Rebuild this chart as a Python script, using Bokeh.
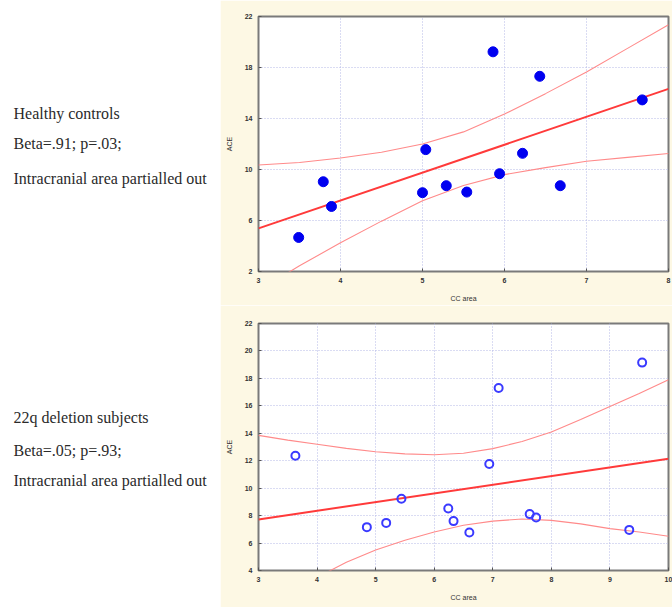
from bokeh.plotting import figure
from bokeh.layouts import column, row
from bokeh.models import FixedTicker, Range1d
from bokeh.core.properties import value
from bokeh.embed import file_html
from bokeh.resources import INLINE

# ---------------- data ----------------
# Healthy controls
hc_cc = [3.49, 3.79, 3.89, 5.00, 5.04, 5.29, 5.54, 5.86, 5.94, 6.22, 6.43, 6.68, 7.68]
hc_ace = [4.67, 9.04, 7.10, 8.18, 11.56, 8.73, 8.23, 19.23, 9.67, 11.27, 17.31, 8.73, 15.46]
hc_fit_x = [3, 8]
hc_fit_y = [5.38, 16.32]
hc_band_x = [3, 3.5, 4, 4.5, 5, 5.5, 6, 6.5, 7, 7.5, 8]
hc_upper = [10.35, 10.55, 10.9, 11.35, 12.0, 12.95, 14.35, 15.95, 17.65, 19.5, 21.35]
hc_lower = [0.5, 2.45, 4.25, 5.95, 7.55, 8.75, 9.6, 10.15, 10.65, 10.95, 11.25]
hc_xticks = [3, 4, 5, 6, 7, 8]
hc_yticks = [2, 6, 10, 14, 18, 22]
hc_text = ["Healthy controls", "Beta=.91; p=.03;", "Intracranial area partialled out"]

# 22q deletion subjects
dq_cc = [3.63, 4.85, 5.18, 5.44, 6.24, 6.33, 6.60, 6.94, 7.10, 7.63, 7.74, 9.33, 9.55]
dq_ace = [12.36, 7.16, 7.47, 9.23, 8.52, 7.60, 6.77, 11.76, 17.30, 8.11, 7.86, 6.96, 19.15]
dq_fit_x = [3, 10]
dq_fit_y = [7.72, 12.15]
dq_band_x = [3, 3.5, 4, 4.5, 5, 5.5, 6, 6.5, 7, 7.5, 8, 8.5, 9, 9.5, 10]
dq_upper = [13.85, 13.5, 13.2, 12.9, 12.65, 12.5, 12.44, 12.55, 12.88, 13.4, 14.1, 15.0, 15.95, 16.9, 17.9]
dq_lower = [1.6, 2.6, 3.5, 4.6, 5.5, 6.2, 6.8, 7.3, 7.6, 7.75, 7.65, 7.4, 7.05, 6.8, 6.5]
dq_xticks = [3, 4, 5, 6, 7, 8, 9, 10]
dq_yticks = [4, 6, 8, 10, 12, 14, 16, 18, 20, 22]
dq_text = ["22q deletion subjects", "Beta=.05; p=.93;", "Intracranial area partialled out"]

x_label = "CC area"
y_label = "ACE"

CREAM = "#fdf8e4"
TEXT_W = 220
PLOT_W = 452


def text_panel(lines, ys, height, frame_top, frame_bottom):
    # the row aligns this figure's frame with the plot frame beside it,
    # so its y range spans that same band, in row pixels
    t = figure(width=TEXT_W, height=height, x_range=Range1d(0, TEXT_W),
               y_range=Range1d(frame_bottom, frame_top), output_backend="svg",
               toolbar_location=None, min_border=0)
    t.axis.visible = False
    t.grid.visible = False
    t.outline_line_color = None
    t.background_fill_color = "white"
    t.border_fill_color = "white"
    t.text(x=[13] * len(lines), y=ys, text=lines,
           text_font=value("Liberation Serif"), text_font_size="16px",
           text_color="#2a2a2a", text_baseline="middle", text_align="left")
    return t


def scatter_panel(xs, ys, fx, fy, bx, bu, bl, xr, yr, xt, yt, height,
                  top, bottom, filled):
    p = figure(width=PLOT_W, height=height, x_range=Range1d(*xr),
               y_range=Range1d(*yr), output_backend="svg",
               toolbar_location=None, min_border_left=38, min_border_right=4,
               min_border_top=top, min_border_bottom=bottom)
    p.background_fill_color = "white"
    p.border_fill_color = CREAM
    p.outline_line_color = "#7a7a7a"
    p.outline_line_width = 2
    p.xaxis.ticker = FixedTicker(ticks=xt)
    p.yaxis.ticker = FixedTicker(ticks=yt)
    for ax in (p.xaxis, p.yaxis):
        ax.axis_line_color = None
        ax.major_tick_in = 3
        ax.major_tick_out = 0
        ax.major_tick_line_color = "#555555"
        ax.minor_tick_line_color = None
        ax.major_label_text_font = "Liberation Sans"
        ax.major_label_text_font_size = "7px"
        ax.major_label_text_font_style = "bold"
        ax.major_label_text_color = "#333333"
        ax.major_label_standoff = 6
        ax.axis_label_text_font = "Liberation Sans"
        ax.axis_label_text_font_size = "7px"
        ax.axis_label_text_font_style = "normal"
        ax.axis_label_text_color = "#333333"
        ax.axis_label_standoff = 9
    p.xaxis.axis_label = x_label
    p.yaxis.axis_label = y_label
    p.grid.grid_line_color = "#b4b8e6"
    p.grid.grid_line_dash = "1 2"
    p.grid.grid_line_width = 1

    p.line(bx, bu, line_color="#ff8a8a", line_width=1.1)
    p.line(bx, bl, line_color="#ff8a8a", line_width=1.1)
    p.line(fx, fy, line_color="#ff3a3a", line_width=2)
    if filled:
        p.scatter(xs, ys, size=10, fill_color="#0000f0", line_color="#0000f0")
    else:
        p.scatter(xs, ys, size=8, fill_color=None, line_color="#3a3aff",
                  line_width=2)
    return p


H1 = 305
H2 = 302
TOP1, BOT1 = 16, 34
TOP2, BOT2 = 18, 37
t1 = text_panel(hc_text, [113, 143, 178], H1, TOP1, H1 - BOT1)
p1 = scatter_panel(hc_cc, hc_ace, hc_fit_x, hc_fit_y, hc_band_x, hc_upper,
                   hc_lower, (3, 8), (2, 22), hc_xticks, hc_yticks, H1,
                   TOP1, BOT1, True)
t2 = text_panel(dq_text, [112, 145, 175], H2, TOP2, H2 - BOT2)
p2 = scatter_panel(dq_cc, dq_ace, dq_fit_x, dq_fit_y, dq_band_x, dq_upper,
                   dq_lower, (3, 10), (4, 22), dq_xticks, dq_yticks, H2,
                   TOP2, BOT2, False)

layout = column(row(t1, p1), row(t2, p2))
open("out.html", "w").write(file_html(layout, INLINE))
